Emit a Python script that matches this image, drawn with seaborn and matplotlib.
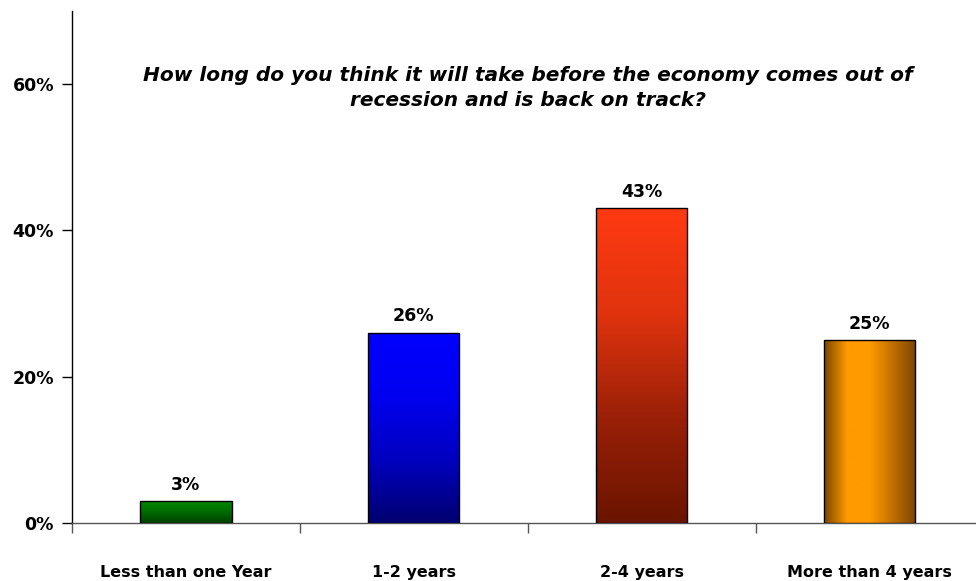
import numpy as np
import pandas as pd
import matplotlib
matplotlib.use("Agg")
import matplotlib.pyplot as plt
import seaborn as sns
from matplotlib.colors import LinearSegmentedColormap

categories = ["Less than one Year", "1-2 years", "2-4 years", "More than 4 years"]
values = [3, 26, 43, 25]
value_labels = ["3%", "26%", "43%", "25%"]
y_ticks = [0, 20, 40, 60]
y_tick_labels = ["0%", "20%", "40%", "60%"]
title = "How long do you think it will take before the economy comes out of\nrecession and is back on track?"

# gradient colour stops per bar: (direction, colors from top/left to bottom/right)
gradients = [
    ("v", ["#008a00", "#006a00", "#004000"]),
    ("v", ["#0000ff", "#0000f0", "#0000c0", "#000070"]),
    ("v", ["#ff3a12", "#e0340e", "#9a2008", "#6a1400"]),
    ("h", ["#7a4600", "#ff9a00", "#ff9a00", "#c07000", "#7a4600"]),
]

sns.set_theme(style="white")
plt.rcParams["font.family"] = ["DejaVu Sans"]
plt.rcParams["text.color"] = "black"
plt.rcParams["xtick.color"] = "black"
plt.rcParams["ytick.color"] = "black"

fig = plt.figure(figsize=(9.76, 5.81), dpi=100)
ax = fig.add_axes([0.0738, 0.0998, 0.934, 0.8816])

df = pd.DataFrame({"category": categories, "value": values})
sns.barplot(data=df, x="category", y="value", ax=ax, width=0.4,
            color="white", edgecolor="black", linewidth=1.0, zorder=3)

for patch, (direction, cols) in zip(ax.patches, gradients):
    x0, y0 = patch.get_x(), patch.get_y()
    w, h = patch.get_width(), patch.get_height()
    cmap = LinearSegmentedColormap.from_list("g", cols)
    if direction == "v":
        grad = np.linspace(0, 1, 256).reshape(-1, 1)
    else:
        grad = np.linspace(0, 1, 256).reshape(1, -1)
    im = ax.imshow(grad, cmap=cmap, extent=[x0, x0 + w, y0, y0 + h],
                   origin="upper", aspect="auto", zorder=3.5, interpolation="bilinear")
    im.set_clip_path(patch)
    patch.set_facecolor("none")
    patch.set_zorder(4)

for patch, lab in zip(ax.patches, value_labels):
    ax.text(patch.get_x() + patch.get_width() / 2, patch.get_height() + 1.0, lab,
            ha="center", va="bottom", fontsize=12.5, fontweight="bold", color="black", zorder=5)

ax.set_xlim(-0.5, 3.5)
ax.set_ylim(0, 70)
ax.set_yticks(y_ticks)
ax.set_yticklabels(y_tick_labels, fontsize=12.5, fontweight="bold")
ax.set_xticks(range(len(categories)))
ax.set_xticklabels(categories, fontsize=11.5, fontweight="bold")
ax.set_xticks([-0.5, 0.5, 1.5, 2.5], minor=True)
ax.tick_params(axis="x", which="major", length=0, pad=30)
ax.tick_params(axis="x", which="minor", length=7, width=1, color="#555555", direction="out", bottom=True)
ax.tick_params(axis="y", which="major", length=7, width=1, color="black", direction="out", left=True, pad=6)
ax.set_xlabel("")
ax.set_ylabel("")

for s in ["top", "right"]:
    ax.spines[s].set_visible(False)
ax.spines["left"].set_color("black")
ax.spines["left"].set_linewidth(1.0)
ax.spines["bottom"].set_color("#555555")
ax.spines["bottom"].set_linewidth(1.0)
ax.grid(False)

fig.text(0.541, 0.849, title, ha="center", va="center", fontsize=14.5,
         fontweight="bold", fontstyle="italic", linespacing=1.4)

fig.savefig("out.png", dpi=100)
